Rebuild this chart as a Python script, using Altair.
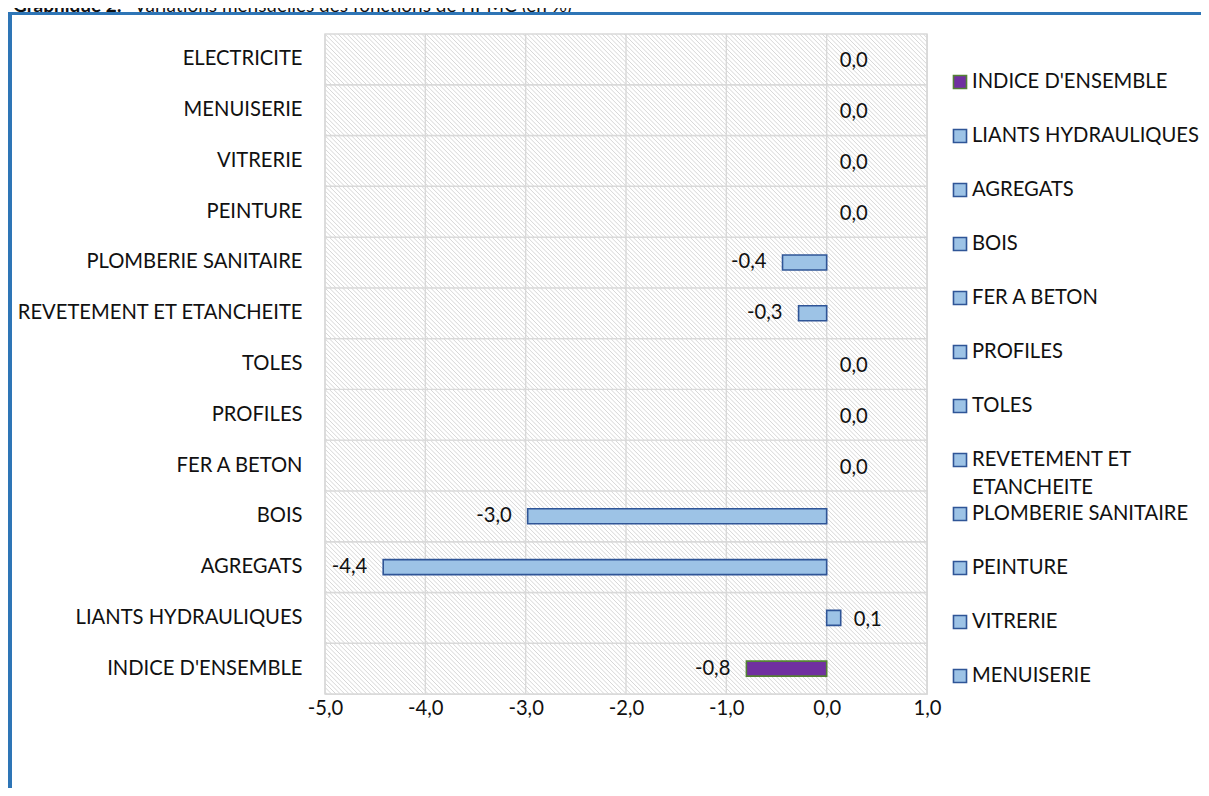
import altair as alt
import pandas as pd

# ---------------- data ----------------
categories = ["INDICE D'ENSEMBLE", "LIANTS HYDRAULIQUES", "AGREGATS", "BOIS\u00a0",
              "FER A BETON", "PROFILES", "TOLES", "REVETEMENT ET ETANCHEITE",
              "PLOMBERIE SANITAIRE", "PEINTURE", "VITRERIE", "MENUISERIE", "ELECTRICITE"]
values = [-0.80, 0.14, -4.42, -2.98, 0.0, 0.0, 0.0, -0.28, -0.44, 0.0, 0.0, 0.0, 0.0]
kinds = ["ensemble"] + ["fonction"] * 12

legend_line1 = ["INDICE D'ENSEMBLE", "LIANTS HYDRAULIQUES", "AGREGATS", "BOIS",
                "FER A BETON", "PROFILES", "TOLES", "REVETEMENT ET",
                "PLOMBERIE SANITAIRE", "PEINTURE", "VITRERIE", "MENUISERIE"]
legend_line2 = ["", "", "", "", "", "", "", "ETANCHEITE", "", "", "", ""]
legend_kinds = ["ensemble"] + ["fonction"] * 11

x_ticks = [-5, -4, -3, -2, -1, 0, 1]

title_bold = "Graphique 2:"
title_rest = "Variations mensuelles des fonctions de l'IPMC (en %)"

# ---------------- styles ----------------
W, H = 602, 660
FONT = "Lato"
FS = 20.2
TXT = "#111111"
GRID = "#d9d9d9"
BORDER = "#2e75b6"
kind_domain = ["ensemble", "fonction"]
fill_range = ["#7030a0", "#9dc3e6"]
stroke_range = ["#548235", "#2f5597"]


def hatch(w, h, period=4.4, half=1.0, ink="#d6d6d6", paper="#ffffff"):
    L = w + h
    s = L / (w * w + h * h)
    stops = [{"offset": 0, "color": paper}]
    c = period / 2
    while c + half < L:
        stops += [{"offset": round((c - half) / L, 6), "color": paper},
                  {"offset": round(c / L, 6), "color": ink},
                  {"offset": round((c + half) / L, 6), "color": paper}]
        c += period
    stops.append({"offset": 1, "color": paper})
    return {"gradient": "linear", "x1": 0, "y1": 1, "x2": s * w, "y2": 1 - s * h,
            "stops": stops}


df = pd.DataFrame({"cat": categories, "v": values, "kind": kinds})
df_ticks = pd.DataFrame({"v": x_ticks})
df_leg = pd.DataFrame({"leg": legend_line1, "line2": legend_line2, "kind": legend_kinds})

y_sort = list(reversed(categories))
xscale = alt.Scale(domain=[x_ticks[0], x_ticks[-1]], nice=False, zero=False)
xaxis = alt.Axis(values=x_ticks, format=".1f", grid=False, domain=False,
                 ticks=False, tickSize=0, labelPadding=4, labelFont=FONT,
                 labelFontSize=FS, labelColor=TXT, labelFlush=False, title=None)
yaxis = alt.Axis(domain=False, ticks=False, tickSize=0, labelPadding=23,
                 labelFont=FONT, labelFontSize=FS, labelColor=TXT,
                 labelLimit=400, grid=False, title=None)
yenc = alt.Y("cat:N", sort=y_sort, title=None,
             scale=alt.Scale(paddingInner=0, paddingOuter=0), axis=yaxis)


def xenc():
    return alt.X("v:Q", scale=xscale, title=None, axis=xaxis)


fill_enc = alt.Fill("kind:N", scale=alt.Scale(domain=kind_domain, range=fill_range), legend=None)
stroke_enc = alt.Stroke("kind:N", scale=alt.Scale(domain=kind_domain, range=stroke_range), legend=None)

base = alt.Chart(df)

bands = base.mark_rect(fill=hatch(W, H / len(categories)), stroke=GRID, strokeWidth=1.4).encode(
    x=alt.datum(x_ticks[0], scale=xscale, axis=xaxis),
    x2=alt.datum(x_ticks[-1]),
    y=yenc,
)

vgrid = alt.Chart(df_ticks).mark_rule(color=GRID, strokeWidth=1.4).encode(x=xenc())

bars = base.transform_filter("datum.v != 0").mark_bar(size=15, strokeWidth=1.6).encode(
    x=xenc(),
    x2=alt.datum(0),
    y=yenc,
    fill=fill_enc,
    stroke=stroke_enc,
)

lab_neg = base.transform_filter("datum.v < 0").mark_text(
    align="right", baseline="middle", dx=-16, font=FONT, fontSize=FS, color=TXT
).encode(x=xenc(), y=yenc, text=alt.Text("v:Q", format=".1f"))

lab_pos = base.transform_filter("datum.v >= 0").mark_text(
    align="left", baseline="middle", dx=13, dy=2, font=FONT, fontSize=FS, color=TXT
).encode(x=xenc(), y=yenc, text=alt.Text("v:Q", format=".1f"))

main = alt.layer(bands, vgrid, bars, lab_neg, lab_pos)

leg_y = alt.Y("leg:N", sort=legend_line1, title=None, axis=None,
              scale=alt.Scale(type="point", range=[48, 642], padding=0))
leg_base = alt.Chart(df_leg)
leg_sym = leg_base.mark_square(size=170, strokeWidth=1.6, opacity=1).encode(
    x=alt.value(635), y=leg_y, fill=fill_enc, stroke=stroke_enc)
leg_txt = leg_base.mark_text(align="left", baseline="middle", font=FONT, fontSize=FS,
                             color=TXT).encode(
    x=alt.value(647), y=leg_y, text="leg:N")
leg_txt2 = leg_base.mark_text(align="left", baseline="middle", dy=28, font=FONT, fontSize=FS,
                              color=TXT).encode(
    x=alt.value(647), y=leg_y, text="line2:N")
legend = alt.layer(leg_sym, leg_txt, leg_txt2)

df_title = pd.DataFrame({"b": [title_bold], "r": [title_rest]})
t_bold = alt.Chart(df_title).mark_text(align="left", baseline="alphabetic", font=FONT,
                                       fontSize=19, fontWeight="bold", color=TXT).encode(
    x=alt.value(-312), y=alt.value(-22), text="b:N")
t_rest = alt.Chart(df_title).mark_text(align="left", baseline="alphabetic", font=FONT,
                                       fontSize=19, color=TXT).encode(
    x=alt.value(-191), y=alt.value(-22), text="r:N")

border_left = alt.Chart(df_title).mark_rule(color=BORDER, strokeWidth=4).encode(
    x=alt.value(-315), y=alt.value(-22), y2=alt.value(762))
border_top = alt.Chart(df_title).mark_rule(color=BORDER, strokeWidth=3).encode(
    x=alt.value(-317), x2=alt.value(876), y=alt.value(-20.5))

chart = alt.layer(main, legend, t_bold, t_rest, border_left, border_top).resolve_scale(
    y="independent"
).properties(
    width=W, height=H,
    padding={"left": 317, "top": 26, "right": 274, "bottom": 94},
    autosize=alt.AutoSizeParams(type="none"),
).configure_view(stroke=None).configure(
    locale={"number": {"decimal": ",", "thousands": "\u00a0", "grouping": [3],
                       "currency": ["", " \u20ac"], "minus": "-"}}
)

chart.save("out.html", embed_options={"renderer": "svg", "actions": False})
